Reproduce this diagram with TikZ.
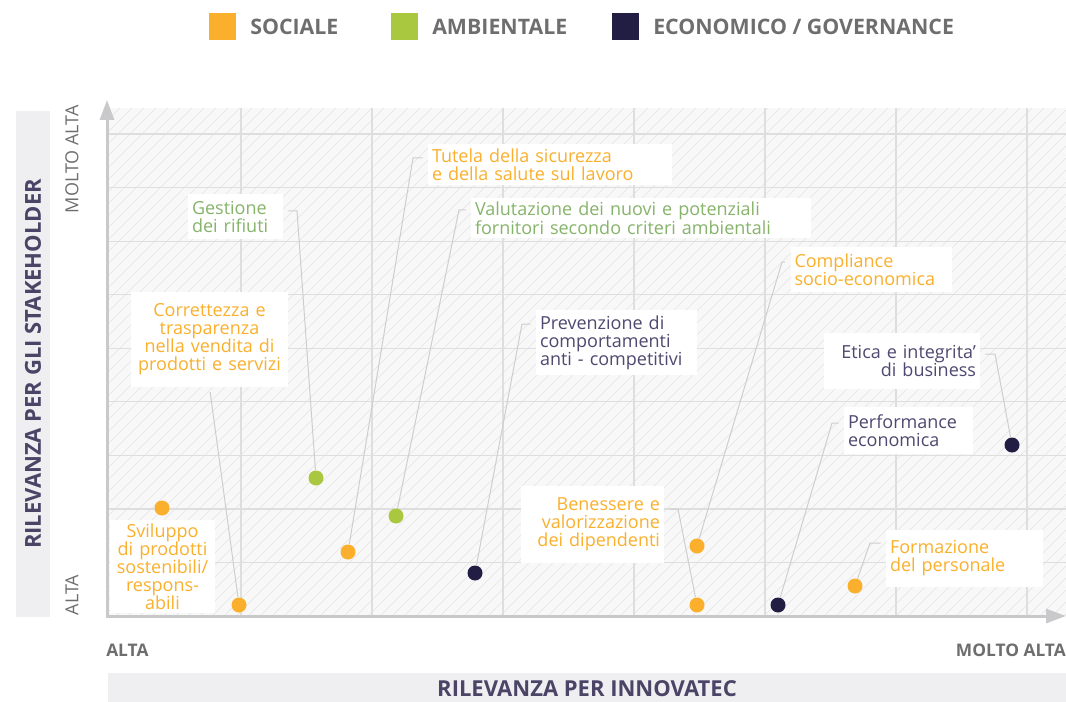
\documentclass[tikz,border=0pt]{standalone}
\usepackage{fontspec}
\setmainfont{Open Sans}
\usetikzlibrary{arrows.meta}

\definecolor{sociale}{HTML}{FAB02C}
\definecolor{ambdot}{HTML}{A9C83F}
\definecolor{ambtxt}{HTML}{86B46A}
\definecolor{ecodot}{HTML}{221D43}
\definecolor{ecotxt}{HTML}{4E4970}
\definecolor{legendtxt}{HTML}{6E6E6E}
\definecolor{titletxt}{HTML}{4B4466}
\definecolor{barfill}{HTML}{EFEFF2}
\definecolor{plotfill}{HTML}{F8F8F8}
\definecolor{hatchgray}{HTML}{E4E4E4}
\definecolor{gridgray}{HTML}{DEDEDE}
\definecolor{axisgray}{HTML}{C9C9CB}
\definecolor{leadergray}{HTML}{CECECE}

\begin{document}
\begin{tikzpicture}[x=0.75pt, y=-0.75pt,
  dot/.style={circle, inner sep=0pt, minimum size=11.25pt},
  lbl/.style={fill=white, inner xsep=3pt, inner ysep=0pt, font=\fontsize{13.5}{13.5}\selectfont},
  leader/.style={draw=leadergray, line width=0.75pt, shorten >=3.75pt},
  gridline/.style={draw=gridgray, line width=0.9pt},
  hatch/.style={draw=hatchgray, line width=0.5pt},
  axisline/.style={draw=axisgray, line width=2.25pt, {Triangle[length=15pt,width=10.5pt]}-{Triangle[length=15pt,width=10.5pt]}},
  legendbox/.style={minimum size=20.25pt, inner sep=0pt},
  legendtext/.style={anchor=west, inner sep=0pt, text=legendtxt, font=\fontsize{16}{18}\selectfont\bfseries},
  axistitle/.style={text=titletxt, font=\fontsize{16.5}{18}\selectfont\bfseries},
  levelx/.style={text=legendtxt, inner sep=0pt, font=\fontsize{13}{15}\selectfont\bfseries},
  levely/.style={text=legendtxt, inner sep=0pt, rotate=90, font=\fontsize{13.5}{15}\selectfont}]
\useasboundingbox (0,0) rectangle (1066,702);

% legend
\node[legendbox, fill=sociale] (ksoc) at (222.5,26.5) {};
\node[legendtext] (tsoc) at (250,27) {SOCIALE};
\node[legendbox, fill=ambdot] (kamb) at (404,26.5) {};
\node[legendtext] (tamb) at (432,27) {AMBIENTALE};
\node[legendbox, fill=ecodot] (keco) at (625,26.5) {};
\node[legendtext] (teco) at (653,27) {ECONOMICO / GOVERNANCE};

% plot area
\fill[plotfill] (108,108) rectangle (1066,616);
\begin{scope}
\clip (108,108) rectangle (1066,616);
\foreach \i in {-520,-508,...,1066}
  \draw[hatch] (\i,616) -- ++(508,-508);
\end{scope}
\foreach \i in {0,...,6}
  \draw[gridline] (241+131*\i,108) -- (241+131*\i,616);
\foreach \i in {0,...,8}
  \draw[gridline] (108,134+53.56*\i) -- (1066,134+53.56*\i);
\draw[axisline] (107,100) -- (107,616) -- (1066,616);

% axis titles
\fill[barfill] (16,111) rectangle (50,617);
\node[axistitle, rotate=90] (ytitle) at (33,364) {RILEVANZA PER GLI STAKEHOLDER};
\fill[barfill] (108,673) rectangle (1066,702);
\node[axistitle] (xtitle) at (587,689) {RILEVANZA PER INNOVATEC};
\node[levely] (ytop) at (72,159) {MOLTO ALTA};
\node[levely] (ybot) at (72,595) {ALTA};
\node[levelx, anchor=west] (xlow) at (106,650) {ALTA};
\node[levelx, anchor=east] (xhigh) at (1066,650) {MOLTO ALTA};

% labels
\node[lbl, text=sociale, text width=72.75pt, minimum height=69.75pt, align=center] (l1) at (162.5,566.5) {Sviluppo\\di prodotti\\sostenibili/\\respons-\\abili};
\node[lbl, text=sociale, text width=111.75pt, minimum height=71.25pt, align=center] (l2) at (209.5,339.5) {Correttezza e\\trasparenza\\nella vendita di\\prodotti e servizi};
\node[lbl, text=ambtxt, text width=65.25pt, minimum height=33.75pt, align=left] (l3) at (235.5,216.5) {Gestione\\dei rifiuti};
\node[lbl, text=sociale, text width=177pt, minimum height=30.75pt, align=left] (l4) at (550,164.5) {Tutela della sicurezza\\e della salute sul lavoro};
\node[lbl, text=ambtxt, text width=249pt, minimum height=30pt, align=left] (l5) at (641,218) {Valutazione dei nuovi e potenziali\\fornitori secondo criteri ambientali};
\node[lbl, text=ecotxt, text width=114.75pt, minimum height=48.75pt, align=left] (l6) at (616.5,342.5) {Prevenzione di\\comportamenti\\anti - competitivi};
\node[lbl, text=sociale, text width=114.75pt, minimum height=33.75pt, align=left] (l7) at (871,269.5) {Compliance\\socio-economica};
\node[lbl, text=sociale, text width=101.25pt, minimum height=57.75pt, align=right] (l8) at (592.5,524.5) {Benessere e\\valorizzazione\\dei dipendenti};
\node[lbl, text=ecotxt, text width=90.75pt, minimum height=35.25pt, align=left] (l9) at (908.5,430.5) {Performance\\economica};
\node[lbl, text=ecotxt, text width=111pt, minimum height=42pt, align=right] (l10) at (902,361) {Etica e integrita’\\di business};
\node[lbl, text=sociale, text width=111.75pt, minimum height=42.75pt, align=left] (l11) at (964.5,558.5) {Formazione\\del personale};

% dots
\node[dot, fill=sociale] (s1) at (162,508) {};
\node[dot, fill=sociale] (s2) at (239,605) {};
\node[dot, fill=ambdot] (g1) at (316,478) {};
\node[dot, fill=sociale] (s3) at (348,552) {};
\node[dot, fill=ambdot] (g2) at (396,516) {};
\node[dot, fill=ecodot] (e1) at (475,573) {};
\node[dot, fill=sociale] (s4) at (697,546) {};
\node[dot, fill=sociale] (s5) at (697,605) {};
\node[dot, fill=ecodot] (e2) at (778,605) {};
\node[dot, fill=ecodot] (e3) at (1012,445) {};
\node[dot, fill=sociale] (s6) at (855,586) {};

% leaders
\coordinate (k3) at (297,211);
\coordinate (k4) at (413,158);
\coordinate (k5) at (459,210);
\coordinate (k6) at (522,324);
\coordinate (k7) at (782,262);
\coordinate (k8) at (678,509);
\coordinate (k9) at (832,423);
\coordinate (k10) at (995,354);
\coordinate (k11) at (870,543);

\draw[leader] (s2) -- (l2.south);
\draw[leader] (g1) -- (k3) -- (k3 -| l3.east);
\draw[leader] (s3) -- (k4) -- (k4 -| l4.west);
\draw[leader] (g2) -- (k5) -- (k5 -| l5.west);
\draw[leader] (e1) -- (k6) -- (k6 -| l6.west);
\draw[leader] (s4) -- (k7) -- (k7 -| l7.west);
\draw[leader] (s5) -- (k8) -- (k8 -| l8.east);
\draw[leader] (e2) -- (k9) -- (k9 -| l9.west);
\draw[leader] (e3) -- (k10) -- (k10 -| l10.east);
\draw[leader] (s6) -- (k11) -- (k11 -| l11.west);
\end{tikzpicture}
\end{document}
